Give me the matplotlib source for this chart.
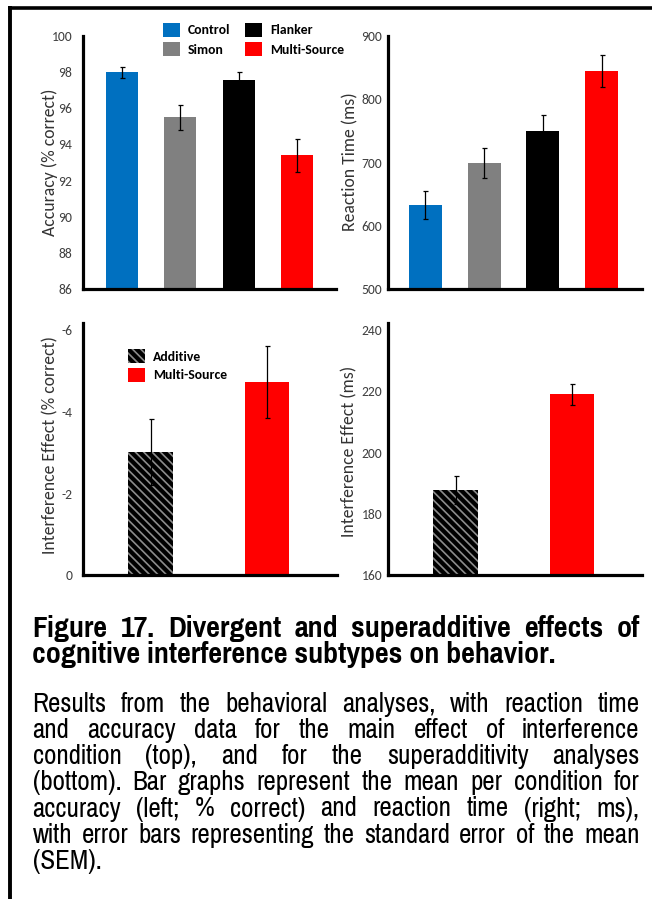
import matplotlib
matplotlib.use('Agg')
import matplotlib.pyplot as plt
from matplotlib import font_manager as fm
from matplotlib.lines import Line2D

plt.rcParams['axes.unicode_minus'] = False
plt.rcParams['hatch.linewidth'] = 1.2

# ---------------- data ----------------
conditions = ['Control', 'Simon', 'Flanker', 'Multi-Source']
accuracy = [98.0, 95.5, 97.55, 93.4]
accuracy_sem = [0.3, 0.7, 0.45, 0.9]
rt = [633, 699, 750, 845]
rt_sem = [22, 24, 25, 25]

interf_labels = ['Additive', 'Multi-Source']
interf_acc = [-3.02, -4.74]
interf_acc_sem = [0.8, 0.88]
interf_rt = [187.8, 219.0]
interf_rt_sem = [4.5, 3.4]

acc_ticks = [86, 88, 90, 92, 94, 96, 98, 100]
rt_ticks = [500, 600, 700, 800, 900]
iacc_ticks = [0, -2, -4, -6]
irt_ticks = [160, 180, 200, 220, 240]

title_lines = ["Figure 17. Divergent and superadditive effects of",
               "cognitive interference subtypes on behavior."]
body_lines = ["Results from the behavioral analyses, with reaction time",
              "and accuracy data for the main effect of interference",
              "condition (top), and for the superadditivity analyses",
              "(bottom). Bar graphs represent the mean per condition for",
              "accuracy (left; % correct) and reaction time (right; ms),",
              "with error bars representing the standard error of the mean",
              "(SEM)."]

colors = ['#0070C0', '#808080', '#000000', '#FF0000']
TICK_C = '#404040'
LABEL_C = '#333333'

names = {f.name for f in fm.fontManager.ttflist}


def pick(cands):
    for c in cands:
        if c in names:
            return c
    return 'DejaVu Sans'


CHART_FONT = pick(['Carlito', 'Lato', 'Open Sans'])
CAP_FONT = pick(['Pragati Narrow', 'Liberation Sans'])

W, H = 652, 899
fig = plt.figure(figsize=(W / 100, H / 100), dpi=100)
renderer = fig.canvas.get_renderer()


def text_width(s, size, family, weight='normal'):
    t = fig.text(0, 0, s, fontsize=size, family=family, weight=weight)
    w = t.get_window_extent(renderer).width
    t.remove()
    return w


def fit(s, target, family, weight='normal'):
    return 10 * target / text_width(s, 10, family, weight)


TICK_SIZE = fit('100', 21, CHART_FONT)
LAB_SIZE = fit('Accuracy (% correct)', 147, CHART_FONT)
LEG_SIZE = fit('Multi-Source', 74, CHART_FONT, 'bold')
LEG_PX = LEG_SIZE * 100 / 72


def ax_at(x0, y0, x1, y1):
    return fig.add_axes([x0 / W, 1 - y1 / H, (x1 - x0) / W, (y1 - y0) / H])


def style(ax, pad):
    for s in ['top', 'right']:
        ax.spines[s].set_visible(False)
    for s in ['left', 'bottom']:
        ax.spines[s].set_linewidth(2.3)
        ax.spines[s].set_color('black')
    ax.set_xticks([])
    ax.tick_params(axis='y', length=0, pad=pad, labelsize=TICK_SIZE, labelcolor=TICK_C)
    for lab in ax.get_yticklabels():
        lab.set_fontfamily(CHART_FONT)


def ylab(ax, text, x, y):
    ax.set_ylabel(text, fontsize=LAB_SIZE, color=LABEL_C, family=CHART_FONT, va='center')
    ax.yaxis.set_label_coords(x, y)


ekw = dict(ecolor='black', elinewidth=0.9, capsize=1.8, capthick=0.9)
leg_common = dict(frameon=False, borderpad=0, borderaxespad=0,
                  bbox_transform=fig.transFigure, loc='upper left',
                  prop=dict(family=CHART_FONT, weight='bold', size=LEG_SIZE),
                  handlelength=17 / LEG_PX, handleheight=16.5 / LEG_PX,
                  handletextpad=7.5 / LEG_PX)

# top-left: accuracy
ax1 = ax_at(83, 36, 336, 289)
x4 = list(range(len(conditions)))
bars1 = ax1.bar(x4, accuracy, width=0.55, color=colors, yerr=accuracy_sem, error_kw=ekw)
ax1.set_ylim(86, 100)
ax1.set_xlim(-0.67, 3.67)
ax1.set_yticks(acc_ticks)
style(ax1, 7.6)
ylab(ax1, 'Accuracy (% correct)', -0.13, 0.5)
ax1.legend(handles=list(bars1), labels=conditions, ncol=2,
           bbox_to_anchor=(163.3 / W, 1 - 22.7 / H),
           labelspacing=5.2 / LEG_PX, columnspacing=15 / LEG_PX, **leg_common)

# top-right: RT
ax2 = ax_at(388.3, 36, 641.7, 289)
ax2.bar(x4, rt, width=0.56, color=colors, yerr=rt_sem, error_kw=ekw)
ax2.set_ylim(500, 900)
ax2.set_xlim(-0.63, 3.68)
ax2.set_yticks(rt_ticks)
style(ax2, 4.5)
ylab(ax2, 'Reaction Time (ms)', -0.151, 0.504)

# bottom-left: interference accuracy
x2 = list(range(len(interf_labels)))
face2 = ['black', '#FF0000']
hatch2 = ['\\\\\\\\', None]
edge2 = ['#8c8c8c', '#FF0000']
ax3 = ax_at(83, 322.7, 337, 575.3)
bars3 = ax3.bar(x2, interf_acc, width=0.38, color=face2, yerr=interf_acc_sem,
                error_kw=ekw, linewidth=0)
for b, h, e in zip(bars3, hatch2, edge2):
    b.set_hatch(h)
    b.set_edgecolor(e)
ax3.set_ylim(0, -6.18)
ax3.set_xlim(-0.58, 1.60)
ax3.set_yticks(iacc_ticks)
style(ax3, 7.6)
ylab(ax3, 'Interference Effect (% correct)', -0.13, 0.516)
ax3.legend(handles=list(bars3), labels=interf_labels,
           bbox_to_anchor=(128.3 / W, 1 - 349.3 / H),
           labelspacing=4.2 / LEG_PX, **leg_common)

# bottom-right: interference RT
ax4 = ax_at(388.3, 322.7, 641.7, 575.3)
bars4 = ax4.bar(x2, interf_rt, width=0.38, color=face2, yerr=interf_rt_sem,
                error_kw=ekw, linewidth=0)
for b, h, e in zip(bars4, hatch2, edge2):
    b.set_hatch(h)
    b.set_edgecolor(e)
ax4.set_ylim(160, 242.4)
ax4.set_xlim(-0.577, 1.598)
ax4.set_yticks(irt_ticks)
style(ax4, 4.5)
ylab(ax4, 'Interference Effect (ms)', -0.152, 0.489)

# frame lines (top and left)
fig.add_artist(Line2D([8 / W, 1.0], [1 - 7.5 / H, 1 - 7.5 / H], transform=fig.transFigure,
                      color='black', linewidth=2.6, solid_capstyle='butt'))
fig.add_artist(Line2D([10 / W, 10 / W], [1 - 6 / H, 0.0], transform=fig.transFigure,
                      color='black', linewidth=2.8, solid_capstyle='butt'))

# ---------------- caption ----------------
LEFT, RIGHT = 32.5, 639.5
WIDTH = RIGHT - LEFT


def put_line(line, base, size, weight, justify):
    y = 1 - base / H
    words = line.split(' ')
    natural = text_width(line, size, CAP_FONT, weight)
    if not justify or len(words) == 1 or natural >= WIDTH:
        fig.text(LEFT / W, y, line, fontsize=size, family=CAP_FONT, weight=weight,
                 va='baseline', ha='left', color='black')
        return
    widths = [text_width(w, size, CAP_FONT, weight) for w in words]
    gap = (WIDTH - sum(widths)) / (len(words) - 1)
    x = LEFT
    for w, wd in zip(words, widths):
        fig.text(x / W, y, w, fontsize=size, family=CAP_FONT, weight=weight,
                 va='baseline', ha='left', color='black')
        x += wd + gap


tsize = fit(title_lines[0], WIDTH, CAP_FONT, 'bold') * 0.94
put_line(title_lines[0], 637, tsize, 'bold', True)
put_line(title_lines[1], 663, tsize, 'bold', False)

bsize = min(fit(l, WIDTH, CAP_FONT) for l in body_lines[:-1]) * 0.95
for i, line in enumerate(body_lines):
    put_line(line, 711.7 + 26.2 * i, bsize, 'normal', i < len(body_lines) - 1)

fig.savefig('out.png', dpi=100)
